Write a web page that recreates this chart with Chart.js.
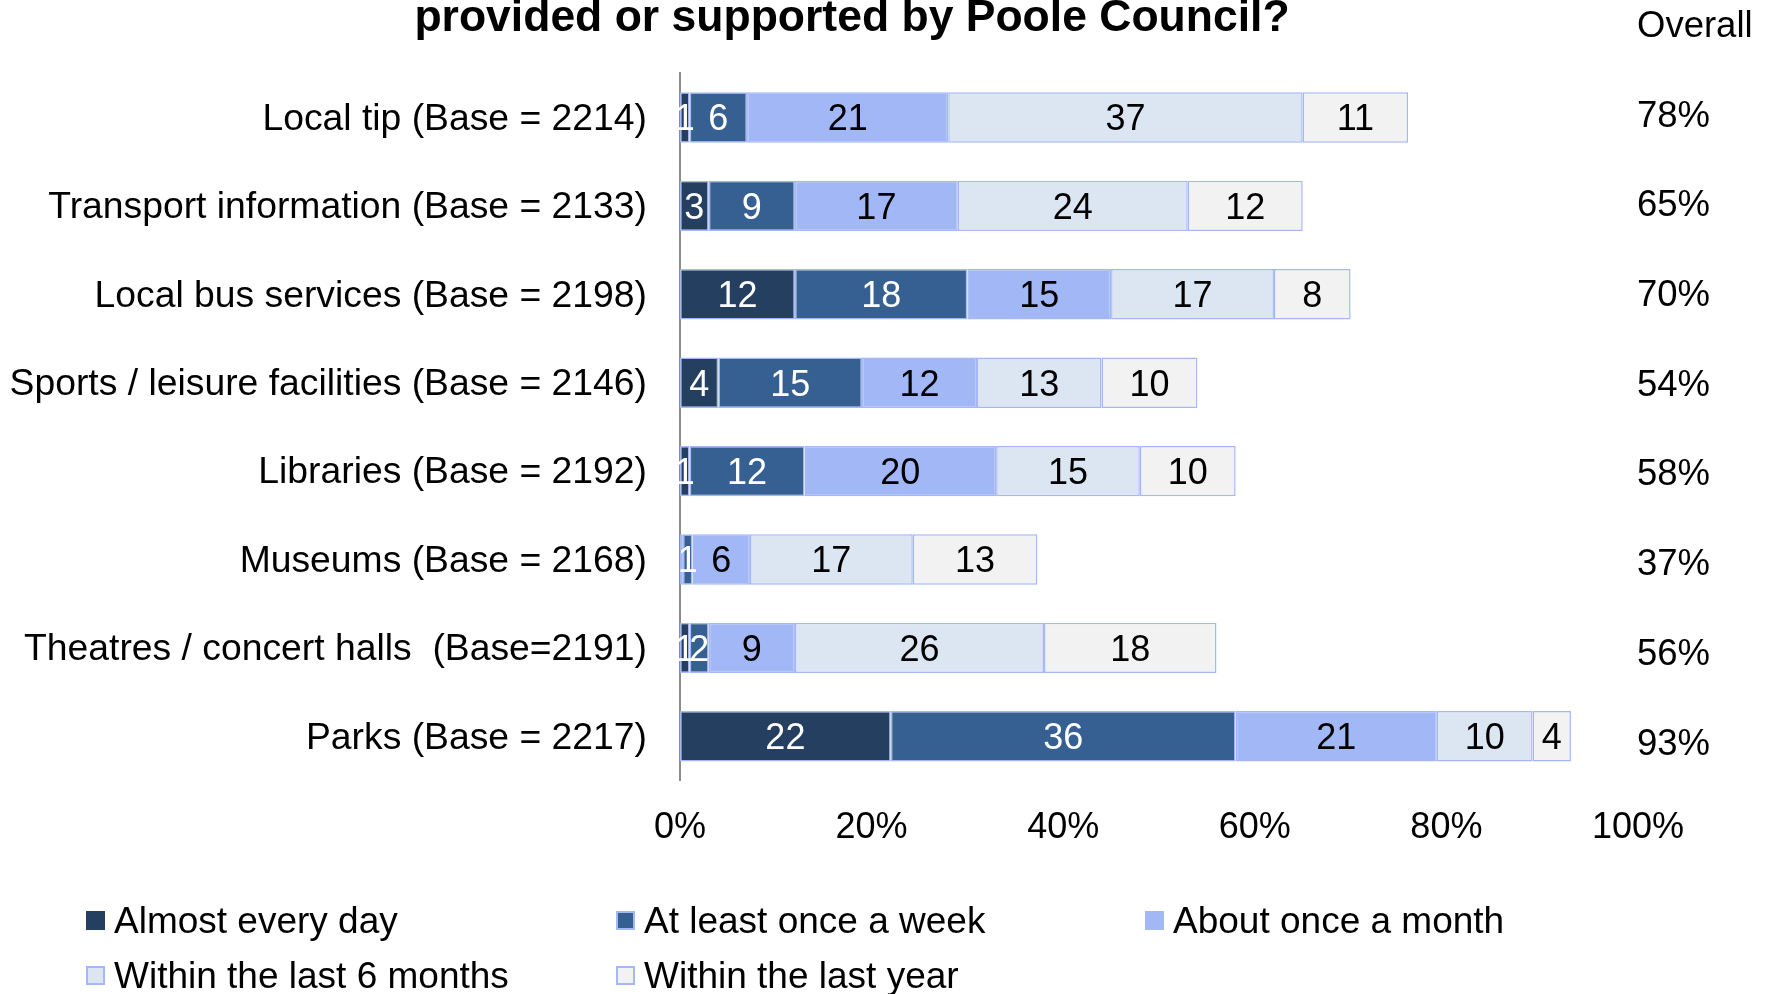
<!DOCTYPE html>
<html>
<head>
<meta charset="utf-8">
<script src="https://cdn.jsdelivr.net/npm/chart.js@4.4.1/dist/chart.umd.min.js"></script>
<style>
  html, body { margin: 0; padding: 0; background: #fff; overflow: hidden; }
  #wrap { position: absolute; left: 0; top: 0; width: 1771px; height: 994px; }
  #chartBox { position: absolute; left: 0; top: 0; width: 1771px; height: 994px; }
  .legend-item { position: absolute; display: flex; align-items: center; height: 40px;
    font-family: "Liberation Sans", Arial, sans-serif; font-size: 37px; color: #000; white-space: nowrap; line-height: 1; }
  .legend-swatch { width: 19px; height: 19px; box-sizing: border-box; margin-right: 9px; flex: none; }
</style>
</head>
<body>
<div id="wrap">
  <div id="chartBox"><canvas id="c"></canvas></div>
  <div id="legend"></div>
</div>
<script>
// Service categories (top to bottom)
const categories = [
  'Local tip (Base = 2214)',
  'Transport information (Base = 2133)',
  'Local bus services (Base = 2198)',
  'Sports / leisure facilities (Base = 2146)',
  'Libraries (Base = 2192)',
  'Museums (Base = 2168)',
  'Theatres / concert halls  (Base=2191)',
  'Parks (Base = 2217)'
];

// Frequency of use, % of respondents
const seriesNames = [
  'Almost every day',
  'At least once a week',
  'About once a month',
  'Within the last 6 months',
  'Within the last year'
];
const almostEveryDay = [1, 3, 12, 4, 1, 0.3, 1, 22];
const atLeastWeekly  = [6, 9, 18, 15, 12, 1, 2, 36];
const aboutMonthly   = [21, 17, 15, 12, 20, 6, 9, 21];
const within6Months  = [37, 24, 17, 13, 15, 17, 26, 10];
const withinYear     = [11, 12, 8, 10, 10, 13, 18, 4];

// Overall share who used each service
const overallPct = [78, 65, 70, 54, 58, 37, 56, 93];

// Percentage axis ticks
const xTicks = [0, 20, 40, 60, 80, 100];

const seriesValues = [almostEveryDay, atLeastWeekly, aboutMonthly, within6Months, withinYear];
const fillColors   = ['#253f60', '#366092', '#a2b7f6', '#dce6f2', '#f2f2f2'];
const labelColors  = ['#ffffff', '#ffffff', '#000000', '#000000', '#000000'];
const edgeColor    = '#a4b8f6';
const FONT = '"Liberation Sans", Arial, sans-serif';

// Value labels centred in each segment
const segmentLabels = {
  id: 'segmentLabels',
  afterDatasetsDraw(chart) {
    const ctx = chart.ctx;
    ctx.save();
    ctx.font = '36px ' + FONT;
    ctx.textAlign = 'center';
    ctx.textBaseline = 'middle';
    chart.data.datasets.forEach((ds, di) => {
      chart.getDatasetMeta(di).data.forEach((bar, i) => {
        const v = ds.data[i];
        if (v < 0.5) return;
        ctx.fillStyle = labelColors[di];
        ctx.fillText(String(v), (bar.x + bar.base) / 2, bar.y + 3);
      });
    });
    ctx.restore();
  }
};

// Heading and the "Overall" column on the right
const sideText = {
  id: 'sideText',
  afterDraw(chart) {
    const ctx = chart.ctx;
    const area = chart.chartArea;
    ctx.save();
    ctx.fillStyle = '#000';
    ctx.font = 'bold 44.5px ' + FONT;
    ctx.textAlign = 'center';
    ctx.textBaseline = 'alphabetic';
    ctx.fillText('provided or supported by Poole Council?', 852, 31);

    ctx.font = '36.5px ' + FONT;
    ctx.textAlign = 'left';
    ctx.textBaseline = 'middle';
    const colX = area.right - 1;
    ctx.fillText('Overall', colX, 27);
    const yScale = chart.scales.y;
    const y0 = yScale.getPixelForValue(0) - 1;
    const step = (yScale.getPixelForValue(1) - yScale.getPixelForValue(0)) * 1.015;
    overallPct.forEach((p, i) => {
      ctx.fillText(p + '%', colX, y0 + i * step);
    });
    ctx.restore();
  }
};

new Chart(document.getElementById('c'), {
  type: 'bar',
  data: {
    labels: categories,
    datasets: seriesNames.map((name, k) => ({
      label: name,
      data: seriesValues[k],
      backgroundColor: fillColors[k],
      borderColor: edgeColor,
      borderWidth: 1.5,
      borderSkipped: false,
      categoryPercentage: 1,
      barPercentage: 0.57
    }))
  },
  options: {
    indexAxis: 'y',
    responsive: true,
    maintainAspectRatio: false,
    animation: false,
    layout: { padding: { left: 0, right: 133, top: 73.3, bottom: 113.5 } },
    plugins: { legend: { display: false }, title: { display: false }, tooltip: { enabled: false } },
    scales: {
      x: {
        stacked: true,
        min: 0,
        max: 100,
        afterBuildTicks(scale) { scale.ticks = xTicks.map(v => ({ value: v })); },
        afterFit(scale) { scale.height = 100; },
        grid: { display: false },
        border: { display: false },
        ticks: {
          padding: 18,
          color: '#000',
          font: { family: FONT, size: 36 },
          callback: v => v + '%'
        }
      },
      y: {
        stacked: true,
        afterFit(scale) { scale.width = 680; },
        grid: { display: false },
        border: { display: true, color: '#8c8c8c', width: 2 },
        ticks: {
          padding: 25,
          labelOffset: 2,
          color: '#000',
          font: { family: FONT, size: 37.3 }
        }
      }
    }
  },
  plugins: [segmentLabels, sideText]
});

// Legend laid out in three columns under the plot
const legendSpots = [[86, 920], [616, 920], [1145, 920], [86, 975], [616, 975]];
const legendEl = document.getElementById('legend');
seriesNames.forEach((name, k) => {
  const item = document.createElement('div');
  item.className = 'legend-item';
  item.style.left = legendSpots[k][0] + 'px';
  item.style.top = (legendSpots[k][1] - 20) + 'px';
  const sw = document.createElement('span');
  sw.className = 'legend-swatch';
  sw.style.background = fillColors[k];
  if (k > 0) sw.style.border = '2px solid ' + edgeColor;
  const tx = document.createElement('span');
  tx.textContent = name;
  item.appendChild(sw);
  item.appendChild(tx);
  legendEl.appendChild(item);
});
</script>
</body>
</html>
